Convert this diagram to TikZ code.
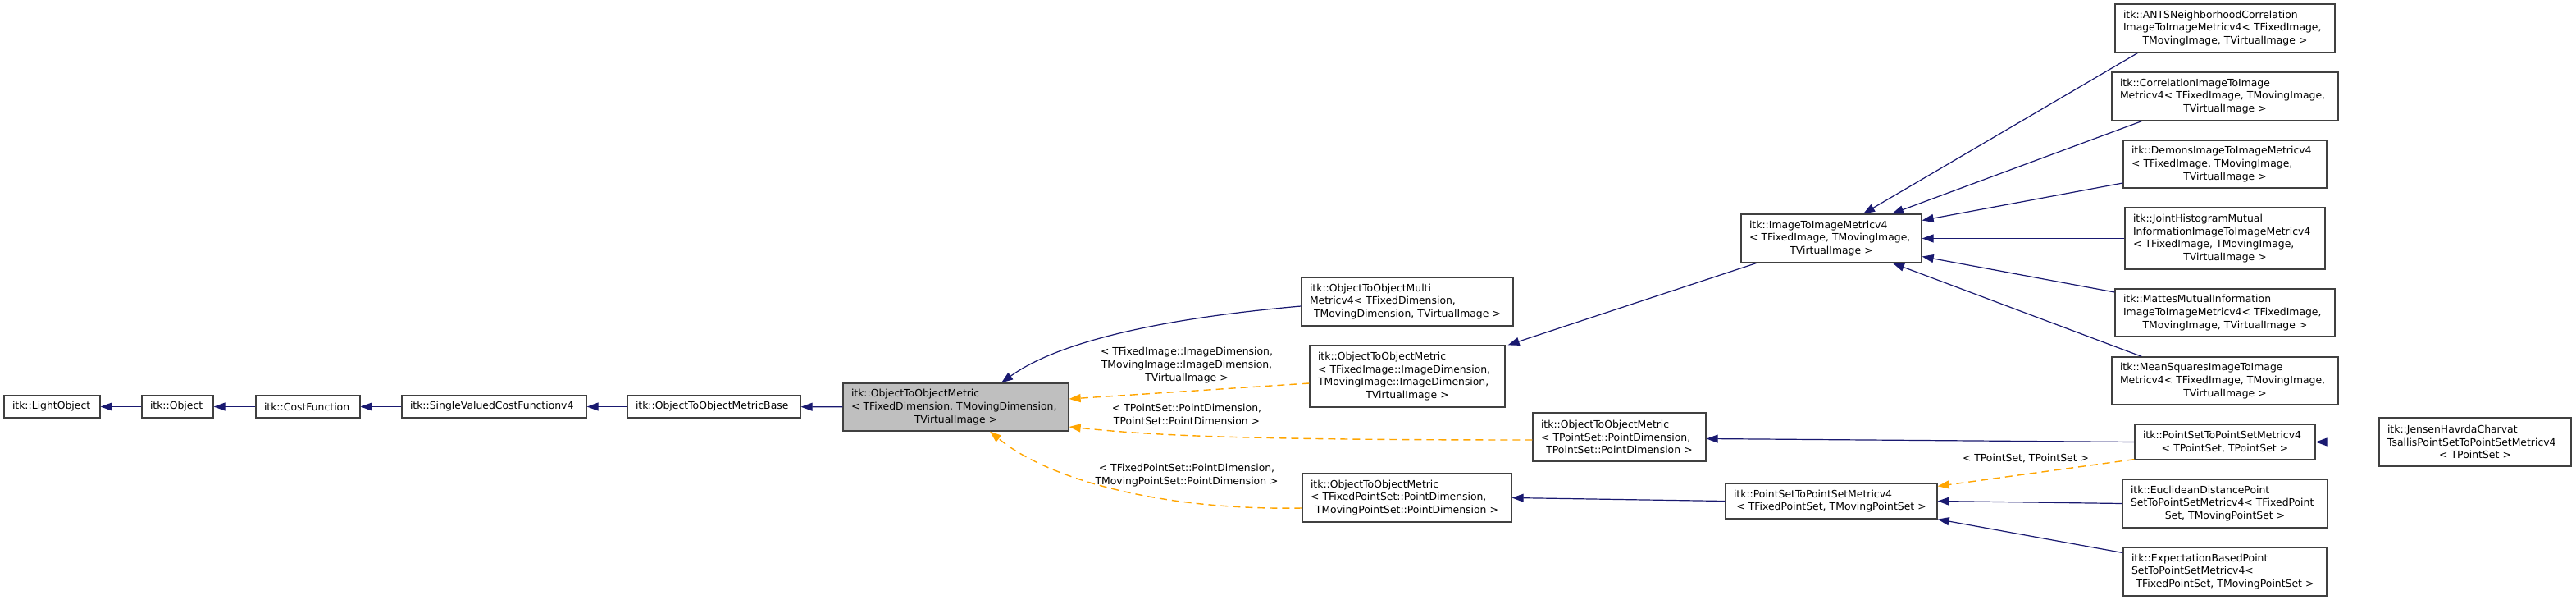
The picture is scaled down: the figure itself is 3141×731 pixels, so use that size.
\documentclass[tikz,border=0pt]{standalone}
\usepackage{fontspec}
\setmainfont{DejaVu Sans}
\usetikzlibrary{arrows.meta, calc}
\definecolor{inhblue}{HTML}{191970}
\definecolor{tplorange}{HTML}{FFA500}
\definecolor{boxline}{HTML}{404040}
\definecolor{curgray}{HTML}{BFBFBF}
\newcommand{\ctrline}[1]{\hbox to\hsize{\hss#1\hss}}

\begin{document}
\begin{tikzpicture}[x=1pt, y=-1pt, >={Triangle[length=14pt, width=10pt]},
  cls/.style={draw=boxline, line width=1.3pt, fill=white, align=left,
    inner xsep=10pt, inner ysep=0pt, font=\fontsize{12.4}{15.7}\selectfont},
  pub/.style={inhblue, line width=1.2pt, ->},
  tpl/.style={tplorange, line width=1.4pt, dash pattern=on 9pt off 6pt, ->},
  lbl/.style={align=center, inner sep=0pt, font=\fontsize{12.4}{15.7}\selectfont}]

% Canvas
\fill[white] (0,0) rectangle (3141,731);
\useasboundingbox (0,0) rectangle (3141,731);

% Base chain
\node[cls, text width=97, minimum height=27] (lightobj) at (63.5,495.5) {itk::LightObject};
\node[cls, text width=67, minimum height=27] (object) at (216.5,495.5) {itk::Object};
\node[cls, text width=107, minimum height=27] (costfn) at (375.5,495.5) {itk::CostFunction};
\node[cls, text width=205, minimum height=27] (svcf) at (602.5,495.5) {itk::SingleValuedCostFunctionv4};
\node[cls, text width=191, minimum height=27] (otombase) at (870.5,495.5) {itk::ObjectToObjectMetricBase};

% Current class
\node[cls, fill=curgray, text width=255, minimum height=58] (main) at (1165.5,496)
  {itk::ObjectToObjectMetric\\< TFixedDimension, TMovingDimension,\\\ctrline{TVirtualImage >}};

% Direct subclasses and template instances
\node[cls, text width=238, minimum height=59] (multi) at (1716,367.5)
  {itk::ObjectToObjectMulti\\Metricv4< TFixedDimension,\\\ctrline{TMovingDimension, TVirtualImage >}};
\node[cls, text width=218, minimum height=75] (otomimg) at (1716,458.5)
  {itk::ObjectToObjectMetric\\< TFixedImage::ImageDimension,\\TMovingImage::ImageDimension,\\\ctrline{TVirtualImage >}};
\node[cls, text width=191, minimum height=59] (otomps) at (1974.5,532.5)
  {itk::ObjectToObjectMetric\\< TPointSet::PointDimension,\\\ctrline{TPointSet::PointDimension >}};
\node[cls, text width=235, minimum height=59] (otomfps) at (1715.5,606.5)
  {itk::ObjectToObjectMetric\\< TFixedPointSet::PointDimension,\\\ctrline{TMovingPointSet::PointDimension >}};

% Image metrics
\node[cls, text width=200, minimum height=59] (imgmetric) at (2233,290.5)
  {itk::ImageToImageMetricv4\\< TFixedImage, TMovingImage,\\\ctrline{TVirtualImage >}};
\node[cls, text width=248, minimum height=59] (ants) at (2713,34.5)
  {itk::ANTSNeighborhoodCorrelation\\ImageToImageMetricv4< TFixedImage,\\\ctrline{TMovingImage, TVirtualImage >}};
\node[cls, text width=256, minimum height=59] (correl) at (2713,117.5)
  {itk::CorrelationImageToImage\\Metricv4< TFixedImage, TMovingImage,\\\ctrline{TVirtualImage >}};
\node[cls, text width=228, minimum height=58] (demons) at (2713,200)
  {itk::DemonsImageToImageMetricv4\\< TFixedImage, TMovingImage,\\\ctrline{TVirtualImage >}};
\node[cls, text width=224, minimum height=75] (joint) at (2713,290.5)
  {itk::JointHistogramMutual\\InformationImageToImageMetricv4\\< TFixedImage, TMovingImage,\\\ctrline{TVirtualImage >}};
\node[cls, text width=248, minimum height=58] (mattes) at (2713,381)
  {itk::MattesMutualInformation\\ImageToImageMetricv4< TFixedImage,\\\ctrline{TMovingImage, TVirtualImage >}};
\node[cls, text width=256, minimum height=58] (meansq) at (2713,464)
  {itk::MeanSquaresImageToImage\\Metricv4< TFixedImage, TMovingImage,\\\ctrline{TVirtualImage >}};

% Point set metrics
\node[cls, text width=238, minimum height=43] (psfixed) at (2233,610.5)
  {itk::PointSetToPointSetMetricv4\\\ctrline{< TFixedPointSet, TMovingPointSet >}};
\node[cls, text width=200, minimum height=43] (pstps) at (2713,538.5)
  {itk::PointSetToPointSetMetricv4\\\ctrline{< TPointSet, TPointSet >}};
\node[cls, text width=214, minimum height=59] (jensen) at (3018,538.5)
  {itk::JensenHavrdaCharvat\\TsallisPointSetToPointSetMetricv4\\\ctrline{< TPointSet >}};
\node[cls, text width=230, minimum height=59] (eucl) at (2713,613.5)
  {itk::EuclideanDistancePoint\\SetToPointSetMetricv4< TFixedPoint\\\ctrline{Set, TMovingPointSet >}};
\node[cls, text width=228, minimum height=59] (expect) at (2713,696.5)
  {itk::ExpectationBasedPoint\\SetToPointSetMetricv4<\\\ctrline{TFixedPointSet, TMovingPointSet >}};

% Template argument labels
\node[lbl] (lblimg) at (1447,445) {< TFixedImage::ImageDimension,\\TMovingImage::ImageDimension,\\TVirtualImage >};
\node[lbl] (lblps) at (1447,505) {< TPointSet::PointDimension,\\TPointSet::PointDimension >};
\node[lbl] (lblfps) at (1447,579) {< TFixedPointSet::PointDimension,\\TMovingPointSet::PointDimension >};
\node[lbl] (lblpsps) at (2470,559) {< TPointSet, TPointSet >};

% Inheritance (child -> parent)
\draw[pub] (object) -- (lightobj);
\draw[pub] (costfn) -- (object);
\draw[pub] (svcf) -- (costfn);
\draw[pub] (otombase) -- (svcf);
\draw[pub] (main) -- (otombase);
\draw[pub] ($(multi.west)+(0,5.5)$) .. controls +(-137,12) and +(79,-57) .. ($(main.north)+(55.5,0)$);
\draw[pub] ($(imgmetric.south west)+(19,0)$) -- ($(otomimg.north east)+(3,0)$);

\draw[pub] ($(ants.south west)+(28,0)$) -- ($(imgmetric.north)+(39,0)$);
\draw[pub] ($(correl.south west)+(37,0)$) -- ($(imgmetric.north)+(74,0)$);
\draw[pub] ($(demons.west)+(0,23)$) -- ($(imgmetric.east)+(0,-22)$);
\draw[pub] (joint.west) -- (imgmetric.east);
\draw[pub] ($(mattes.west)+(0,-25)$) -- ($(imgmetric.east)+(0,22)$);
\draw[pub] ($(meansq.north west)+(37,0)$) -- ($(imgmetric.south)+(75,0)$);

\draw[pub] (pstps.west) -- ($(otomps.east)+(0,2)$);
\draw[pub] (jensen) -- (pstps);
\draw[pub] (eucl.west) -- (psfixed.east);
\draw[pub] ($(expect.west)+(0,-23)$) -- (psfixed.south east);
\draw[pub] (psfixed.west) -- (otomfps.east);

% Template instances
\draw[tpl] ($(otomimg.west)+(0,8.5)$) -- ($(main.east)+(0,-10)$);
\draw[tpl] ($(otomps.west)+(0,3.5)$) .. controls +(-369,0) and +(97,10) .. ($(main.east)+(0,24)$);
\draw[tpl] ($(otomfps.west)+(0,12.5)$) .. controls +(-168,3) and +(73,60) .. ($(main.south)+(41.5,0)$);
\draw[tpl] ($(pstps.south west)+(0,-1)$) -- ($(psfixed.north east)+(0,4)$);

\end{tikzpicture}
\end{document}
